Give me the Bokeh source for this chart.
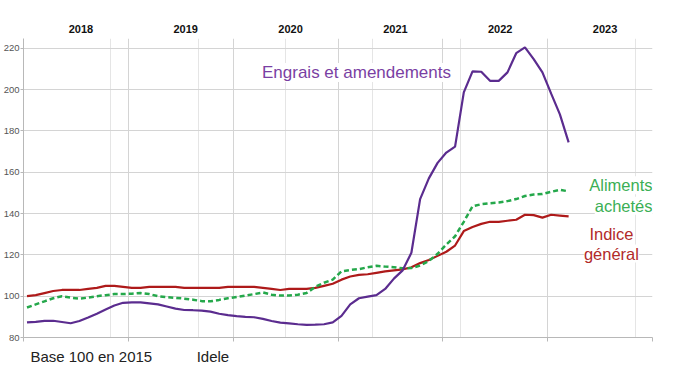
from bokeh.plotting import figure
from bokeh.models import Range1d, LinearAxis, FixedTicker, Label, ColumnDataSource, Grid
from bokeh.embed import file_html
from bokeh.resources import INLINE

# ---- data (monthly index, Jan 2018 = 0) ----
years = ["2018", "2019", "2020", "2021", "2022", "2023"]
y_ticks = [80, 100, 120, 140, 160, 180, 200, 220]
footer = ["Base 100 en 2015", "Idele"]

engrais = [87.3, 87.6, 88.0, 88.1, 87.5, 86.9, 88.0, 89.7, 91.5, 93.5, 95.5, 96.8,
           97.0, 97.0, 96.5, 96.0, 95.0, 94.0, 93.3, 93.2, 93.0, 92.5, 91.5, 90.8,
           90.3, 90.0, 89.8, 89.0, 88.0, 87.2, 86.8, 86.4, 86.1, 86.2, 86.4, 87.3,
           90.5, 96.0, 99.0, 99.8, 100.5, 103.5, 108.5, 112.5, 121.0, 147.0, 157.0, 164.5,
           169.5, 172.4, 198.6, 208.8, 208.6, 204.2, 204.2, 208.3, 217.6, 220.4, 214.7, 208.3,
           198.0, 188.0, 174.4]

aliments = [94.5, 96.0, 97.5, 99.0, 100.0, 99.3, 98.8, 99.3, 100.0, 100.5, 101.0, 101.0,
            101.2, 101.5, 101.0, 100.0, 99.5, 99.2, 98.8, 98.3, 97.6, 97.5, 98.2, 99.0,
            99.6, 100.3, 101.0, 101.8, 100.7, 100.3, 100.3, 100.7, 101.5, 104.5, 106.5, 108.0,
            112.0, 112.7, 113.1, 114.0, 114.7, 114.3, 114.0, 113.5, 113.6, 114.8, 117.0, 120.5,
            125.0, 129.0, 136.0, 143.5, 144.5, 145.0, 145.3, 146.0, 147.0, 148.5, 149.2, 149.4,
            150.5, 151.5, 150.7]

indice = [100.0, 100.5, 101.5, 102.5, 103.0, 103.0, 103.0, 103.5, 104.0, 105.0, 105.0, 104.5,
          104.0, 104.0, 104.5, 104.5, 104.5, 104.5, 104.0, 104.0, 104.0, 104.0, 104.0, 104.5,
          104.5, 104.5, 104.5, 104.0, 103.5, 103.0, 103.5, 103.5, 103.5, 104.0, 105.0, 106.0,
          108.0, 109.5, 110.3, 110.6, 111.3, 112.0, 112.5, 113.0, 114.0, 116.0, 117.5, 119.5,
          121.5, 124.5, 131.5, 133.5, 135.0, 136.0, 136.0, 136.5, 137.0, 139.4, 139.2, 138.0,
          139.4, 139.0, 138.6]

months = list(range(len(engrais)))

PURPLE = "#5B2C8F"
PURPLE_TXT = "#7A3FA3"
GREEN = "#25A84B"
GREEN_TXT = "#3BAF55"
RED = "#AE1A1A"
RED_TXT = "#B22A2A"
AXIS = "#b8b8b8"
GRID = "#d4d4d4"
FONT = "Liberation Sans"
year_bounds = [0, 12, 24, 36, 48, 60, 72]

src = ColumnDataSource(dict(x=[m + 0.4 for m in months], engrais=engrais,
                            aliments=aliments, indice=indice))

p = figure(width=674, height=367, output_backend="svg", toolbar_location=None,
           x_range=Range1d(0, 72), y_range=Range1d(80, 224.7),
           x_axis_location=None,
           min_border_left=21, min_border_right=22, min_border_top=38, min_border_bottom=30)
p.outline_line_color = None
p.background_fill_color = "white"
p.border_fill_color = "white"

# bottom axis: tick marks at year bounds (minor ticks), footer texts as labels
foot_pos = [7.76, 21.68]
bottom = LinearAxis(ticker=FixedTicker(ticks=foot_pos, minor_ticks=year_bounds),
                    major_label_overrides={v: t for v, t in zip(foot_pos, footer)})
bottom.axis_line_color = AXIS
bottom.major_tick_line_color = None
bottom.major_tick_out = 4
bottom.minor_tick_out = 4
bottom.minor_tick_in = 0
bottom.minor_tick_line_color = AXIS
bottom.major_label_standoff = 6
bottom.major_label_text_font = FONT
bottom.major_label_text_font_size = "15px"
bottom.major_label_text_color = "#222222"
p.add_layout(bottom, "below")

# year labels on top
top_pos = [12 * i + 6.57 for i in range(len(years))]
top = LinearAxis(ticker=FixedTicker(ticks=top_pos),
                 major_label_overrides={v: y for v, y in zip(top_pos, years)})
top.axis_line_color = None
top.major_tick_line_color = None
top.minor_tick_line_color = None
top.major_label_text_font = FONT
top.major_label_text_font_style = "bold"
top.major_label_text_font_size = "11px"
top.major_label_text_color = "#111111"
top.major_label_standoff = 0
p.add_layout(top, "above")

# y axis
p.yaxis.ticker = FixedTicker(ticks=y_ticks)
p.yaxis.major_label_text_font = FONT
p.yaxis.major_label_text_font_size = "9.5px"
p.yaxis.major_label_text_color = "#555555"
p.yaxis.major_label_standoff = 1
p.yaxis.major_tick_out = 3
p.yaxis.major_tick_in = 0
p.yaxis.minor_tick_line_color = None
p.yaxis.axis_line_color = AXIS
p.yaxis.major_tick_line_color = AXIS

p.add_layout(Grid(dimension=0, ticker=FixedTicker(ticks=year_bounds), grid_line_color=GRID))
p.ygrid.ticker = FixedTicker(ticks=y_ticks)
p.ygrid.grid_line_color = GRID

p.line("x", "indice", source=src, line_color=RED, line_width=2.2)
p.line("x", "aliments", source=src, line_color=GREEN, line_width=2.5, line_dash="5 3")
p.line("x", "engrais", source=src, line_color=PURPLE, line_width=2.2)

def lab(text, x, y, color, size, align="left"):
    p.add_layout(Label(x=x, y=y, text=text, text_color=color, text_font=FONT,
                       text_font_size=size, text_align=align, text_baseline="alphabetic",
                       background_fill_color="white", background_fill_alpha=1.0))

lab("Engrais et amendements", 27.3, 208.3, PURPLE_TXT, "17px")
lab("Aliments", 72, 153.7, GREEN_TXT, "16.5px", "right")
lab("achetés", 72, 143.7, GREEN_TXT, "16.5px", "right")
lab("Indice", 67.3, 130.0, RED_TXT, "16.5px", "center")
lab("général", 67.3, 120.6, RED_TXT, "16.5px", "center")

open("out.html", "w").write(file_html(p, INLINE))
